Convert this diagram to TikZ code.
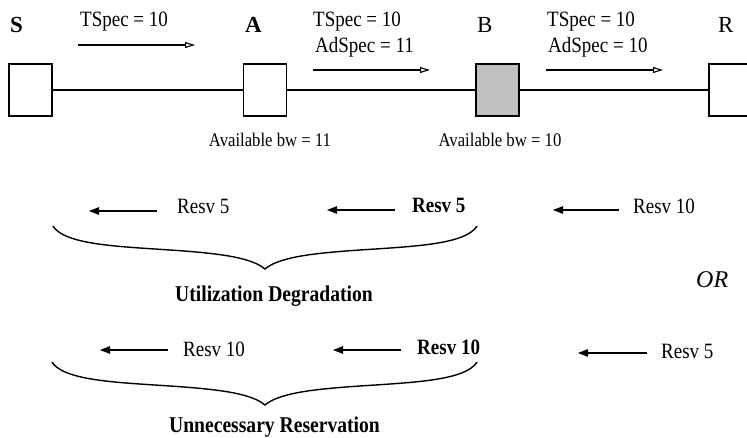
\documentclass[tikz,border=0pt]{standalone}
\usepackage{fontspec}
\setmainfont{Liberation Serif}
\usetikzlibrary{arrows.meta}
\newcommand{\vs}[1]{\scalebox{1}[1.15]{#1}}
\begin{document}
\begin{tikzpicture}[x=1pt,y=-1pt,
  nodebox/.style={draw, line width=1.2pt, minimum width=43pt, minimum height=52pt, inner sep=0pt},
  link/.style={line width=1.1pt},
  fwd/.style={line width=1.1pt, -{Triangle[open,length=10pt,width=6pt]}},
  back/.style={line width=1.2pt, -{Triangle[length=10pt,width=7.5pt]}},
  txt/.style={font=\fontsize{19}{22}\selectfont, inner sep=0pt, anchor=base west},
  bigl/.style={font=\fontsize{23}{26}\selectfont, inner sep=0pt, anchor=base west},
  small/.style={font=\fontsize{16.7}{20}\selectfont, inner sep=0pt, anchor=base},
  brace/.style={line width=1.4pt},
]
\useasboundingbox (0,0) rectangle (747,438);
\clip (0,0) rectangle (747,438);

% routers
\node[nodebox] (S) at (30.5,90) {};
\node[nodebox] (A) at (265,90) {};
\node[nodebox, fill={rgb,255:red,192;green,192;blue,192}] (B) at (497.5,90) {};
\node[nodebox] (R) at (730.5,90) {};
\draw[link] (S) -- (A);
\draw[link] (A) -- (B);
\draw[link] (B) -- (R);

% router names
\node[bigl, font=\fontsize{23}{26}\selectfont\bfseries] (lS) at (10,33) {S};
\node[bigl, font=\fontsize{23}{26}\selectfont\bfseries] (lA) at (245,33) {A};
\node[bigl] (lB) at (477,33) {B};
\node[bigl] (lR) at (718,33) {R};

% downstream PATH messages
\node[txt] (t1) at (80,27) {\vs{TSpec = 10}};
\coordinate (a1s) at (78,45); \coordinate (a1e) at (195,45);
\draw[fwd] (a1s) -- (a1e);

\node[txt] (t2) at (313,27) {\vs{TSpec = 10}};
\node[txt] (d2) at (315,53) {\vs{AdSpec = 11}};
\coordinate (a2s) at (313,70); \coordinate (a2e) at (430,70);
\draw[fwd] (a2s) -- (a2e);

\node[txt] (t3) at (547,27) {\vs{TSpec = 10}};
\node[txt] (d3) at (548,53) {\vs{AdSpec = 10}};
\coordinate (a3s) at (546,70); \coordinate (a3e) at (663,70);
\draw[fwd] (a3s) -- (a3e);

% available bandwidth
\node[small] (bwA) at (270,147) {\vs{Available bw = 11}};
\node[small] (bwB) at (500,147) {\vs{Available bw = 10}};

% first case
\coordinate (r1s) at (157,211); \coordinate (r1e) at (89,211);
\draw[back] (r1s) -- (r1e);
\node[txt] (r1) at (177,214) {\vs{Resv 5}};
\coordinate (r2s) at (395,210); \coordinate (r2e) at (327,210);
\draw[back] (r2s) -- (r2e);
\node[txt, font=\fontsize{19}{22}\selectfont\bfseries] (r2) at (412,213) {\vs{Resv 5}};
\coordinate (r3s) at (619,210); \coordinate (r3e) at (553,210);
\draw[back] (r3s) -- (r3e);
\node[txt] (r3) at (633,214) {\vs{Resv 10}};

\draw[brace] (53,226) .. controls (68,250) and (150,246) .. (215,254)
  .. controls (240,257) and (257,262) .. (265,269)
  .. controls (273,262) and (290,257) .. (315,254)
  .. controls (380,246) and (462,250) .. (477,226);
\node[txt, anchor=base, font=\fontsize{19.6}{22}\selectfont\bfseries] (ud) at (274,302) {\vs{Utilization Degradation}};

\node[bigl, font=\fontsize{24}{26}\selectfont\itshape] (or) at (696,288) {OR};

% second case
\coordinate (s1s) at (168,350); \coordinate (s1e) at (100,350);
\draw[back] (s1s) -- (s1e);
\node[txt] (s1) at (183,356) {\vs{Resv 10}};
\coordinate (s2s) at (401,350); \coordinate (s2e) at (333,350);
\draw[back] (s2s) -- (s2e);
\node[txt, font=\fontsize{19}{22}\selectfont\bfseries] (s2) at (417,354) {\vs{Resv 10}};
\coordinate (s3s) at (647,353); \coordinate (s3e) at (578,353);
\draw[back] (s3s) -- (s3e);
\node[txt] (s3) at (661,359) {\vs{Resv 5}};

\draw[brace] (52,362) .. controls (67,386) and (150,382) .. (215,390)
  .. controls (240,393) and (257,398) .. (265,405)
  .. controls (273,398) and (290,393) .. (315,390)
  .. controls (380,382) and (462,386) .. (477,362);
\node[txt, anchor=base, font=\fontsize{19.6}{22}\selectfont\bfseries] (ur) at (274.5,432) {\vs{Unnecessary Reservation}};
\end{tikzpicture}
\end{document}
